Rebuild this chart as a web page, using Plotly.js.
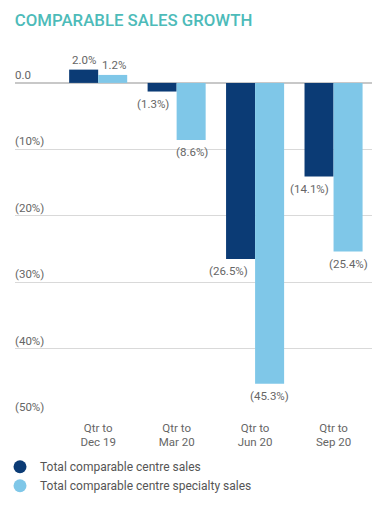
<!DOCTYPE html>
<html>
<head>
<meta charset="utf-8">
<script src="https://cdn.plot.ly/plotly-3.0.1.min.js"></script>
<style>html,body{margin:0;padding:0;background:#fff;}#chart{width:391px;height:511px;}</style>
</head>
<body>
<div id="chart"></div>
<script>
var categories = ["Qtr to<br>Dec 19", "Qtr to<br>Mar 20", "Qtr to<br>Jun 20", "Qtr to<br>Sep 20"];
var centreSales = [2.0, -1.3, -26.5, -14.1];
var specialtySales = [1.2, -8.6, -45.3, -25.4];
var seriesNames = ["Total comparable centre sales", "Total comparable centre specialty sales"];
var yTickVals = [0, -10, -20, -30, -40, -50];
var yTickLabels = ["0.0", "(10%)", "(20%)", "(30%)", "(40%)", "(50%)"];

var darkBlue = "#0b3b75";
var lightBlue = "#7fc7e8";
var textGrey = "#666666";
var fontFam = "Roboto, 'Open Sans', sans-serif";

function fmt(v) {
  return v < 0 ? "(" + Math.abs(v).toFixed(1) + "%)" : v.toFixed(1) + "%";
}

var traces = [
  {type: "bar", x: categories, y: centreSales, name: seriesNames[0], marker: {color: darkBlue},
   showlegend: false, hoverinfo: "none"},
  {type: "bar", x: categories, y: specialtySales, name: seriesNames[1], marker: {color: lightBlue},
   showlegend: false, hoverinfo: "none"},
  {type: "scatter", mode: "markers", x: [null], y: [null], name: seriesNames[0],
   marker: {color: darkBlue, size: 13, symbol: "circle"}},
  {type: "scatter", mode: "markers", x: [null], y: [null], name: seriesNames[1],
   marker: {color: lightBlue, size: 13, symbol: "circle"}}
];

var annotations = yTickVals.map(function (v, i) {
  return {xref: "paper", yref: "y", x: 0, y: v, text: yTickLabels[i], showarrow: false,
          xanchor: "left", yanchor: "bottom", yshift: -1, xshift: -2,
          font: {color: textGrey, size: 11.5, family: fontFam}};
});

function valueLabels(vals, shifts) {
  return vals.map(function (v, i) {
    return {xref: "x", yref: "y", x: categories[i], y: v, text: fmt(v), showarrow: false,
            xanchor: "center", yanchor: v < 0 ? "top" : "bottom", yshift: v < 0 ? -3 : 1,
            xshift: shifts[i],
            font: {color: textGrey, size: 11.5, family: fontFam}};
  });
}
annotations = annotations
  .concat(valueLabels(centreSales, [-14, -24, -27, -24]))
  .concat(valueLabels(specialtySales, [16, 15, 14, 15]));

var layout = {
  width: 391, height: 511,
  margin: {l: 15, r: 19, t: 55, b: 96, autoexpand: false},
  paper_bgcolor: "#fff", plot_bgcolor: "#fff",
  title: {text: "COMPARABLE SALES GROWTH", x: 0.038, xanchor: "left", y: 0.96, yanchor: "middle",
          font: {color: "#4dbbb9", size: 16.8, family: fontFam, weight: 500}},
  barmode: "group", bargap: 0.26, bargroupgap: 0,
  xaxis: {type: "category", range: [-1.06, 3.49], showgrid: false, zeroline: false, showline: false,
          ticks: "", ticklabelstandoff: 4,
          tickfont: {color: textGrey, size: 11.5, family: fontFam}, fixedrange: true},
  yaxis: {range: [-50, 4.2], tickvals: yTickVals, showticklabels: false, showgrid: true,
          gridcolor: "#d9d9d9", gridwidth: 1.3, zeroline: true, zerolinecolor: "#c8c8c8",
          zerolinewidth: 1.5, showline: false, ticks: "", fixedrange: true},
  showlegend: true,
  legend: {xref: "container", yref: "container", x: 0, xanchor: "left", y: 0.115, yanchor: "top",
           orientation: "v", font: {color: "#555", size: 12, family: fontFam},
           itemwidth: 30, tracegroupgap: 0, bgcolor: "rgba(0,0,0,0)"},
  annotations: annotations
};

Plotly.newPlot("chart", traces, layout, {displayModeBar: false, staticPlot: true});
</script>
</body>
</html>
